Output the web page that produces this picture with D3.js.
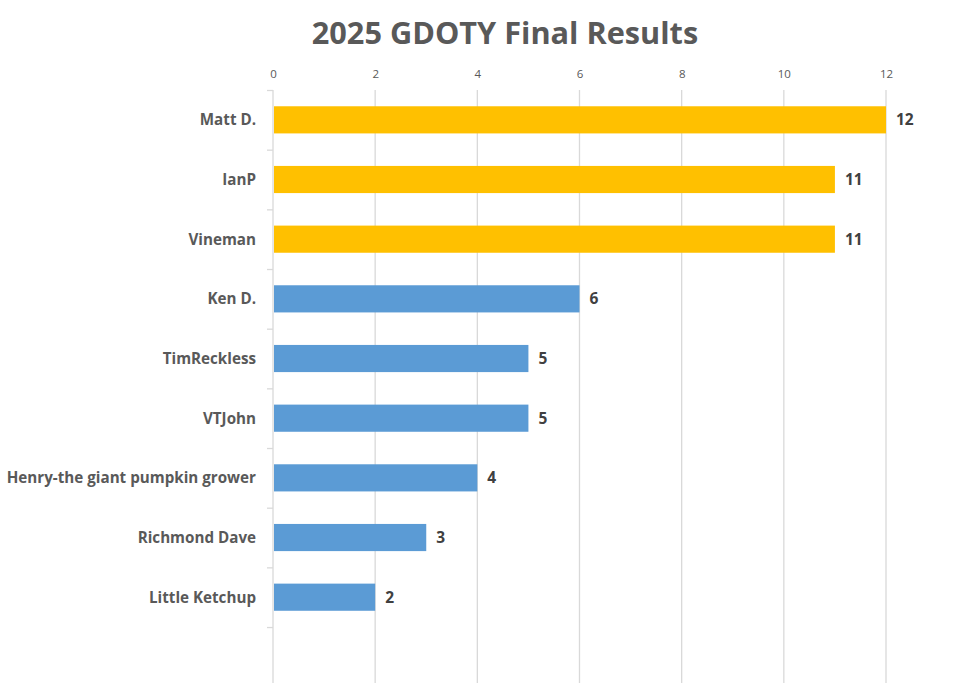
<!DOCTYPE html>
<html><head><meta charset="utf-8">
<script src="https://cdn.jsdelivr.net/npm/d3@7"></script>
<style>body{margin:0;background:#fff;}svg{display:block;font-family:"Open Sans", sans-serif;}</style>
</head><body>
<svg id="c" width="980" height="683"></svg>
<script>
const categories = ["Matt D.","IanP","Vineman","Ken D.","TimReckless","VTJohn","Henry-the giant pumpkin grower","Richmond Dave","Little Ketchup",""];
const values = [12,11,11,6,5,5,4,3,2,null];
const colorsByRank = ["#FFC000","#FFC000","#FFC000","#5B9BD5","#5B9BD5","#5B9BD5","#5B9BD5","#5B9BD5","#5B9BD5",null];
const xTicks = [0,2,4,6,8,10,12];
const title = "2025 GDOTY Final Results";

const svg = d3.select("#c");
const x = d3.scaleLinear().domain([0,12]).range([273,886]);
const y = d3.scaleBand().domain(categories.map((c,i)=>i)).range([90, 90+59.67*10]).paddingInner(0.545).paddingOuter(0.2725);

// gridlines
svg.append("g").selectAll("line").data(xTicks.slice(1)).join("line")
  .attr("x1",d=>x(d)).attr("x2",d=>x(d)).attr("y1",90).attr("y2",683)
  .attr("stroke","#d9d9d9").attr("stroke-width",1.3);

// left axis
const ya = svg.append("g").attr("transform","translate(273,0)")
  .call(d3.axisLeft(d3.scaleLinear().domain([0,10]).range([90,90+59.67*10])).tickValues(d3.range(0,11)).tickSize(6).tickFormat(""));
ya.select(".domain").attr("stroke","#d9d9d9").attr("stroke-width",1.3).attr("d","M0,90V683");
ya.selectAll(".tick line").attr("stroke","#d9d9d9").attr("stroke-width",1.3);

// top axis labels
const xa = svg.append("g").attr("transform","translate(0,78)")
  .call(d3.axisTop(x).tickValues(xTicks).tickSize(0).tickPadding(0));
xa.select(".domain").remove();
xa.selectAll("text").attr("fill","#595959").attr("font-size",11.5).attr("font-family","'Open Sans', sans-serif");

// bars
const data = categories.map((c,i)=>({c,i,v:values[i],col:colorsByRank[i]})).filter(d=>d.v!=null);
svg.append("g").selectAll("rect").data(data).join("rect")
  .attr("x",x(0)+1).attr("y",d=>y(d.i)).attr("width",d=>x(d.v)-x(0)-1).attr("height",y.bandwidth())
  .attr("fill",d=>d.col);

// value labels
svg.append("g").selectAll("text").data(data).join("text")
  .attr("x",d=>x(d.v)+10).attr("y",d=>y(d.i)+y.bandwidth()/2).attr("dy","0.36em")
  .attr("font-size",15.5).attr("font-weight","bold").attr("fill","#404040").text(d=>d.v);

// category labels
svg.append("g").selectAll("text").data(data).join("text")
  .attr("x",256).attr("y",d=>y(d.i)+y.bandwidth()/2).attr("dy","0.36em").attr("text-anchor","end")
  .attr("font-size",15.2).attr("font-weight","bold").attr("fill","#595959").text(d=>d.c);

// title
svg.append("text").attr("x",505).attr("y",44).attr("text-anchor","middle")
  .attr("font-size",30.7).attr("font-weight","bold").attr("fill","#595959").text(title);
</script>
</body></html>
